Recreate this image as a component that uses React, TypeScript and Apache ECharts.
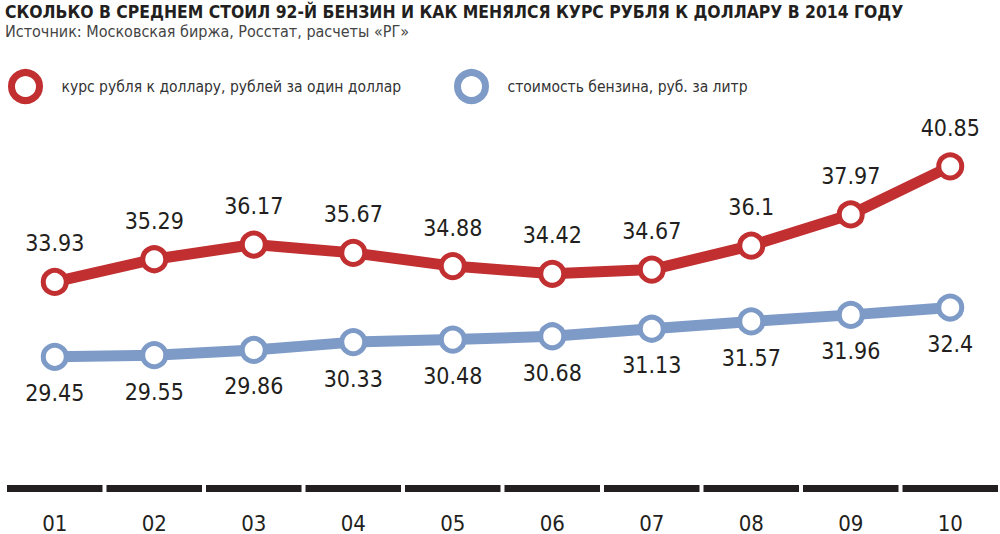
import React, { useEffect, useRef } from "react";
import * as echarts from "echarts";

const categories = ["01", "02", "03", "04", "05", "06", "07", "08", "09", "10"];
const rubleRate = [33.93, 35.29, 36.17, 35.67, 34.88, 34.42, 34.67, 36.1, 37.97, 40.85];
const gasPrice = [29.45, 29.55, 29.86, 30.33, 30.48, 30.68, 31.13, 31.57, 31.96, 32.4];

const titleText = "СКОЛЬКО В СРЕДНЕМ СТОИЛ 92-Й БЕНЗИН И КАК МЕНЯЛСЯ КУРС РУБЛЯ К ДОЛЛАРУ В 2014 ГОДУ";
const sourceText = "Источник: Московская биржа, Росстат, расчеты «РГ»";
const rateName = "курс рубля к доллару, рублей за один доллар";
const gasName = "стоимость бензина, руб. за литр";

const RED = "#c12f31";
const BLUE = "#7e9bc8";
const INK = "#231f20";
const FONT = "'DejaVu Sans Condensed', 'DejaVu Sans', sans-serif";

export default function App() {
  const ref = useRef<HTMLDivElement>(null);
  useEffect(() => {
    if (!ref.current) return;
    const chart = echarts.init(ref.current, undefined, { renderer: "svg" });
    const legendBase = {
      orient: "horizontal",
      icon: "circle",
      itemWidth: 28,
      itemHeight: 28,
      itemGap: 0,
      top: 64,
      padding: 5,
      textStyle: { fontFamily: FONT, fontSize: 15.5, color: "#333", padding: [0, 0, 0, 17] },
      selectedMode: false,
    };
    chart.setOption({
      animation: false,
      title: [
        {
          text: titleText,
          left: 2,
          top: 0,
          padding: [3, 3, 3, 3],
          textStyle: { fontFamily: FONT, fontWeight: "bold", fontSize: 17.4, color: INK },
        },
        {
          text: sourceText,
          left: 2,
          top: 20,
          padding: [3, 3, 3, 3],
          textStyle: { fontFamily: FONT, fontWeight: "normal", fontSize: 16, color: "#444" },
        },
      ],
      legend: [
        {
          ...legendBase,
          left: 3,
          data: [{ name: rateName, itemStyle: { color: "#fff", borderColor: RED, borderWidth: 7 } }],
        },
        {
          ...legendBase,
          left: 449,
          data: [{ name: gasName, itemStyle: { color: "#fff", borderColor: BLUE, borderWidth: 7 } }],
        },
      ],
      grid: { left: 5, right: 0, top: 97, bottom: 34 },
      xAxis: {
        type: "category",
        data: categories,
        boundaryGap: true,
        axisLine: { show: false },
        axisTick: { show: false },
        axisLabel: { fontFamily: FONT, fontSize: 22, color: INK, margin: 14 },
      },
      yAxis: {
        type: "value",
        min: 21,
        max: 45,
        show: false,
        splitLine: { show: false },
      },
      series: [
        {
          type: "custom",
          silent: true,
          data: categories.map((_, i) => [i]),
          renderItem: (params: any, api: any) => {
            const p = api.coord([api.value(0), 21]);
            const w = api.size([1, 0])[0];
            return {
              type: "rect",
              shape: { x: p[0] - w / 2 + 2, y: p[1] - 13, width: w - 4, height: 7 },
              style: { fill: INK },
            };
          },
          z: 1,
        },
        {
          name: gasName,
          type: "line",
          data: gasPrice,
          symbol: "circle",
          symbolSize: 23,
          lineStyle: { color: BLUE, width: 11 },
          itemStyle: { color: "#fff", borderColor: BLUE, borderWidth: 5 },
          label: {
            show: true,
            position: "bottom",
            distance: 11,
            fontFamily: FONT,
            fontSize: 23,
            color: INK,
          },
          z: 3,
        },
        {
          name: rateName,
          type: "line",
          data: rubleRate,
          symbol: "circle",
          symbolSize: 23,
          lineStyle: { color: RED, width: 11 },
          itemStyle: { color: "#fff", borderColor: RED, borderWidth: 5 },
          label: {
            show: true,
            position: "top",
            distance: 13,
            fontFamily: FONT,
            fontSize: 23,
            color: INK,
          },
          z: 3,
        },
      ],
    });
    return () => chart.dispose();
  }, []);
  return (
    <div
      ref={ref}
      style={{ position: "absolute", left: 0, top: 0, width: 1000, height: 534, background: "#fff" }}
    />
  );
}
